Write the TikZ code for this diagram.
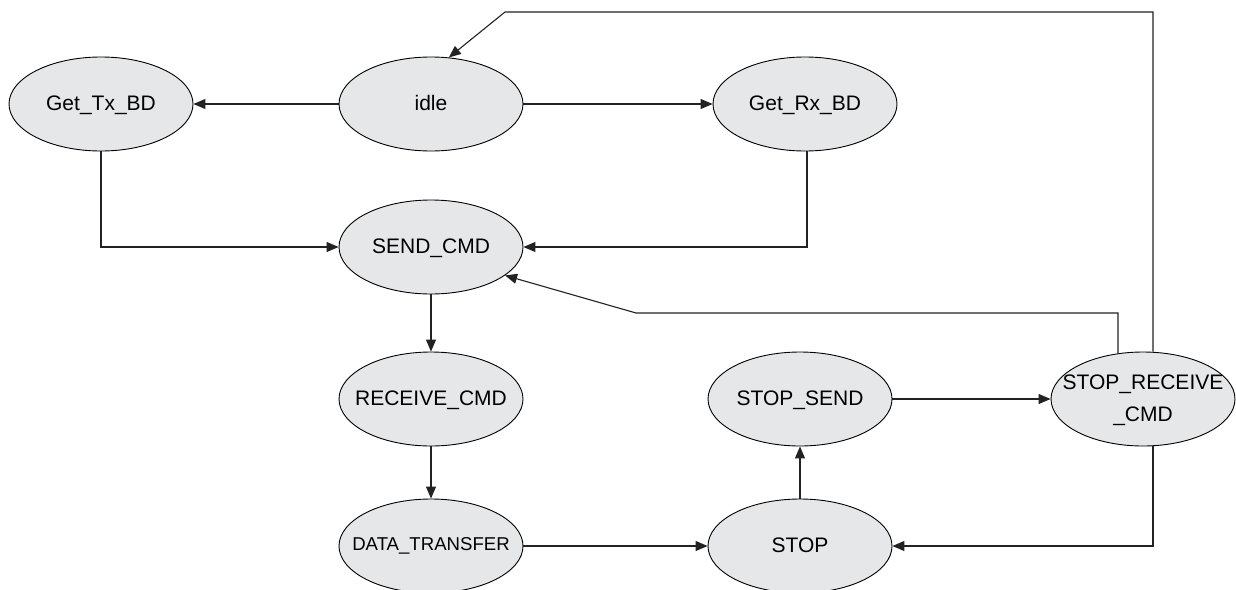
\documentclass[tikz,border=0pt]{standalone}
\usepackage{fontspec}
\setmainfont{Liberation Sans}
\usetikzlibrary{shapes.geometric,arrows.meta}
\definecolor{statefill}{HTML}{E6E7E8}
\definecolor{linecol}{HTML}{222222}
\newcommand{\lbl}[1]{\makebox[0pt][c]{\begin{tabular}{@{}c@{}}#1\end{tabular}}}
\tikzset{
  state/.style={ellipse,draw=black,line width=0.9pt,fill=statefill,inner sep=0pt,
    minimum width=184pt,minimum height=94pt,font=\fontsize{21}{32}\selectfont},
  conn/.style={draw=linecol,line width=1.1pt,-{Triangle[length=12pt,width=10pt]}}
}
\begin{document}
\begin{tikzpicture}[x=1pt,y=-1pt]
\useasboundingbox[fill=white] (0,0) rectangle (1236,589);
\node[state] (TX) at (101,104) {\lbl{Get\_Tx\_BD}};
\node[state] (ID) at (431,104) {\lbl{idle}};
\node[state] (RX) at (805,104) {\lbl{Get\_Rx\_BD}};
\node[state] (SC) at (431,247) {\lbl{SEND\_CMD}};
\node[state] (RC) at (431,399) {\lbl{RECEIVE\_CMD}};
\node[state,font=\fontsize{18.6}{24}\selectfont] (DT) at (431,546) {\lbl{DATA\_TRANSFER}};
\node[state] (ST) at (800,546) {\lbl{STOP}};
\node[state] (SS) at (800,399) {\lbl{STOP\_SEND}};
\node[state] (SR) at (1143,399) {\raisebox{-5pt}{\lbl{STOP\_RECEIVE\\\_CMD}}};
\coordinate (topR) at (1153,12);
\coordinate (topL) at (505,12);
\coordinate (midR) at (1118,313);
\coordinate (midL) at (636,313);
\coordinate (botR) at (1153,546);
\draw[conn] (ID.west) -- (TX.east);
\draw[conn] (ID.east) -- (RX.west);
\draw[conn] (TX.south) |- (SC.west);
\draw[conn] ([xshift=2pt]RX.south) |- (SC.east);
\draw[conn] (SC.south) -- (RC.north);
\draw[conn] (RC.south) -- (DT.north);
\draw[conn] (DT.east) -- (ST.west);
\draw[conn] (ST.north) -- (SS.south);
\draw[conn] (SS.east) -- (SR.west);
\draw[conn] ([xshift=10pt]SR.south) -- (botR) -- (ST.east);
\draw[conn] ([xshift=-25pt,yshift=-2pt]SR.north) -- (midR) -- (midL) -- (SC.-21);
\draw[conn] ([xshift=10pt]SR.north) -- (topR) -- (topL) -- (ID.69);
\end{tikzpicture}
\end{document}
